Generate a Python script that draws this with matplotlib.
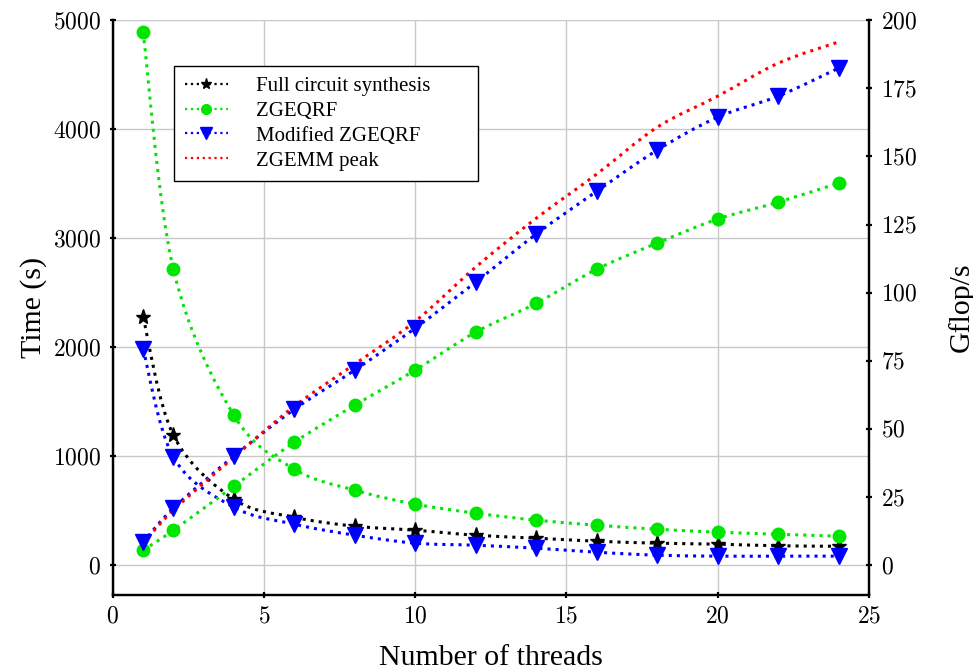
import numpy as np
import matplotlib.pyplot as plt
from matplotlib.path import Path
from matplotlib.patches import PathPatch
from matplotlib.lines import Line2D
from matplotlib.ticker import FuncFormatter

plt.rcParams['font.family'] = ['Liberation Serif', 'DejaVu Serif']
plt.rcParams['mathtext.fontset'] = 'cm'

threads = [1, 2, 4, 6, 8, 10, 12, 14, 16, 18, 20, 22, 24]

# time (s), left axis
time_full = [2275, 1193, 605, 440, 358, 321, 275, 248, 220, 202, 193, 178, 174]
time_zgeqrf = [4890, 2716, 1376, 881, 688, 560, 477, 413, 367, 330, 303, 284, 266]
time_modified = [1982, 991, 532, 376, 275, 202, 183, 156, 119, 92, 83, 83, 83]

# Gflop/s, right axis
gf_zgeqrf = [5.5, 12.8, 29.0, 45.1, 58.7, 71.6, 85.5, 96.1, 108.6, 118.2, 127.0, 133.2, 140.2]
gf_modified = [8.4, 20.9, 40.0, 57.2, 71.6, 87.0, 103.9, 121.5, 137.2, 152.3, 164.4, 172.1, 182.4]
gf_zgemm = [8.0, 20.2, 39.6, 58.3, 73.8, 89.5, 109.4, 127.3, 143.5, 160.7, 172.1, 184.2, 192.0]

green = "#00e600"
blue = "#0000ff"
red = "#ff0000"
lw = 2.2


def smooth_line(ax, x, y, color):
    # cubic bezier through the points (pgfplots "smooth" look)
    p = np.column_stack([x, y]).astype(float)
    verts = [p[0]]
    codes = [Path.MOVETO]
    for i in range(len(p) - 1):
        prev = p[i - 1] if i > 0 else p[i]
        nxt = p[i + 2] if i + 2 < len(p) else p[i + 1]
        c1 = p[i] + (p[i + 1] - prev) / 6
        c2 = p[i + 1] - (nxt - p[i]) / 6
        verts += [c1, c2, p[i + 1]]
        codes += [Path.CURVE4] * 3
    ax.add_patch(PathPatch(Path(verts, codes), fill=False, edgecolor=color,
                           linestyle=":", linewidth=lw))


fig = plt.figure(figsize=(9.73, 6.71), dpi=100)
ax = fig.add_axes([0.116, 0.113, 0.777, 0.857])
ax2 = ax.twinx()

smooth_line(ax, threads, time_full, "black")
smooth_line(ax, threads, time_zgeqrf, green)
smooth_line(ax, threads, time_modified, blue)
smooth_line(ax2, threads, gf_zgeqrf, green)
smooth_line(ax2, threads, gf_modified, blue)
smooth_line(ax2, threads, gf_zgemm, red)

ax.plot(threads, time_full, color="black", linestyle="none", marker="*", markersize=11)
ax.plot(threads, time_zgeqrf, color=green, linestyle="none", marker="o", markersize=9)
ax.plot(threads, time_modified, color=blue, linestyle="none", marker="v", markersize=12)
ax2.plot(threads, gf_zgeqrf, color=green, linestyle="none", marker="o", markersize=9)
ax2.plot(threads, gf_modified, color=blue, linestyle="none", marker="v", markersize=12)

ax.set_xlim(0, 25)
ax.set_ylim(-275, 5000)
ax2.set_ylim(-11, 200)
ax.set_xticks(np.arange(0, 26, 5))
ax.set_yticks(np.arange(0, 5001, 1000))
ax2.set_yticks(np.arange(0, 201, 25))

fmt = FuncFormatter(lambda v, pos: f"${v:g}$")
ax.xaxis.set_major_formatter(fmt)
ax.yaxis.set_major_formatter(fmt)
ax2.yaxis.set_major_formatter(fmt)

ax.grid(True, color="#c8c8c8", linewidth=1)
ax.set_axisbelow(True)

for a in (ax, ax2):
    a.spines["top"].set_visible(False)
    for s in ("left", "right", "bottom"):
        a.spines[s].set_linewidth(1.6)
    a.tick_params(direction="inout", length=5, width=1.6, labelsize=17, pad=6)

ax.set_xlabel("Number of threads", fontsize=21.5, labelpad=12)
ax.set_ylabel("Time (s)", fontsize=21.5, labelpad=4)
ax2.set_ylabel("Gflop/s", fontsize=21.5, labelpad=22)

handles = [
    Line2D([], [], color="black", linestyle=":", linewidth=1.6, marker="*", markersize=8),
    Line2D([], [], color=green, linestyle=":", linewidth=1.6, marker="o", markersize=7),
    Line2D([], [], color=blue, linestyle=":", linewidth=1.6, marker="v", markersize=9),
    Line2D([], [], color=red, linestyle=":", linewidth=1.6),
]
labels = ["Full circuit synthesis", "ZGEQRF", "Modified ZGEQRF", "ZGEMM peak"]
leg = ax.legend(handles, labels, loc="upper left", bbox_to_anchor=(0.081, 0.92, 0.402, 0.0),
                mode="expand", fontsize=15, fancybox=False, framealpha=1, edgecolor="black",
                handlelength=2.1, labelspacing=0.25, handletextpad=1.35,
                borderpad=0.5, borderaxespad=0)
leg.get_frame().set_linewidth(1.0)

fig.savefig("out.png", dpi=100)
